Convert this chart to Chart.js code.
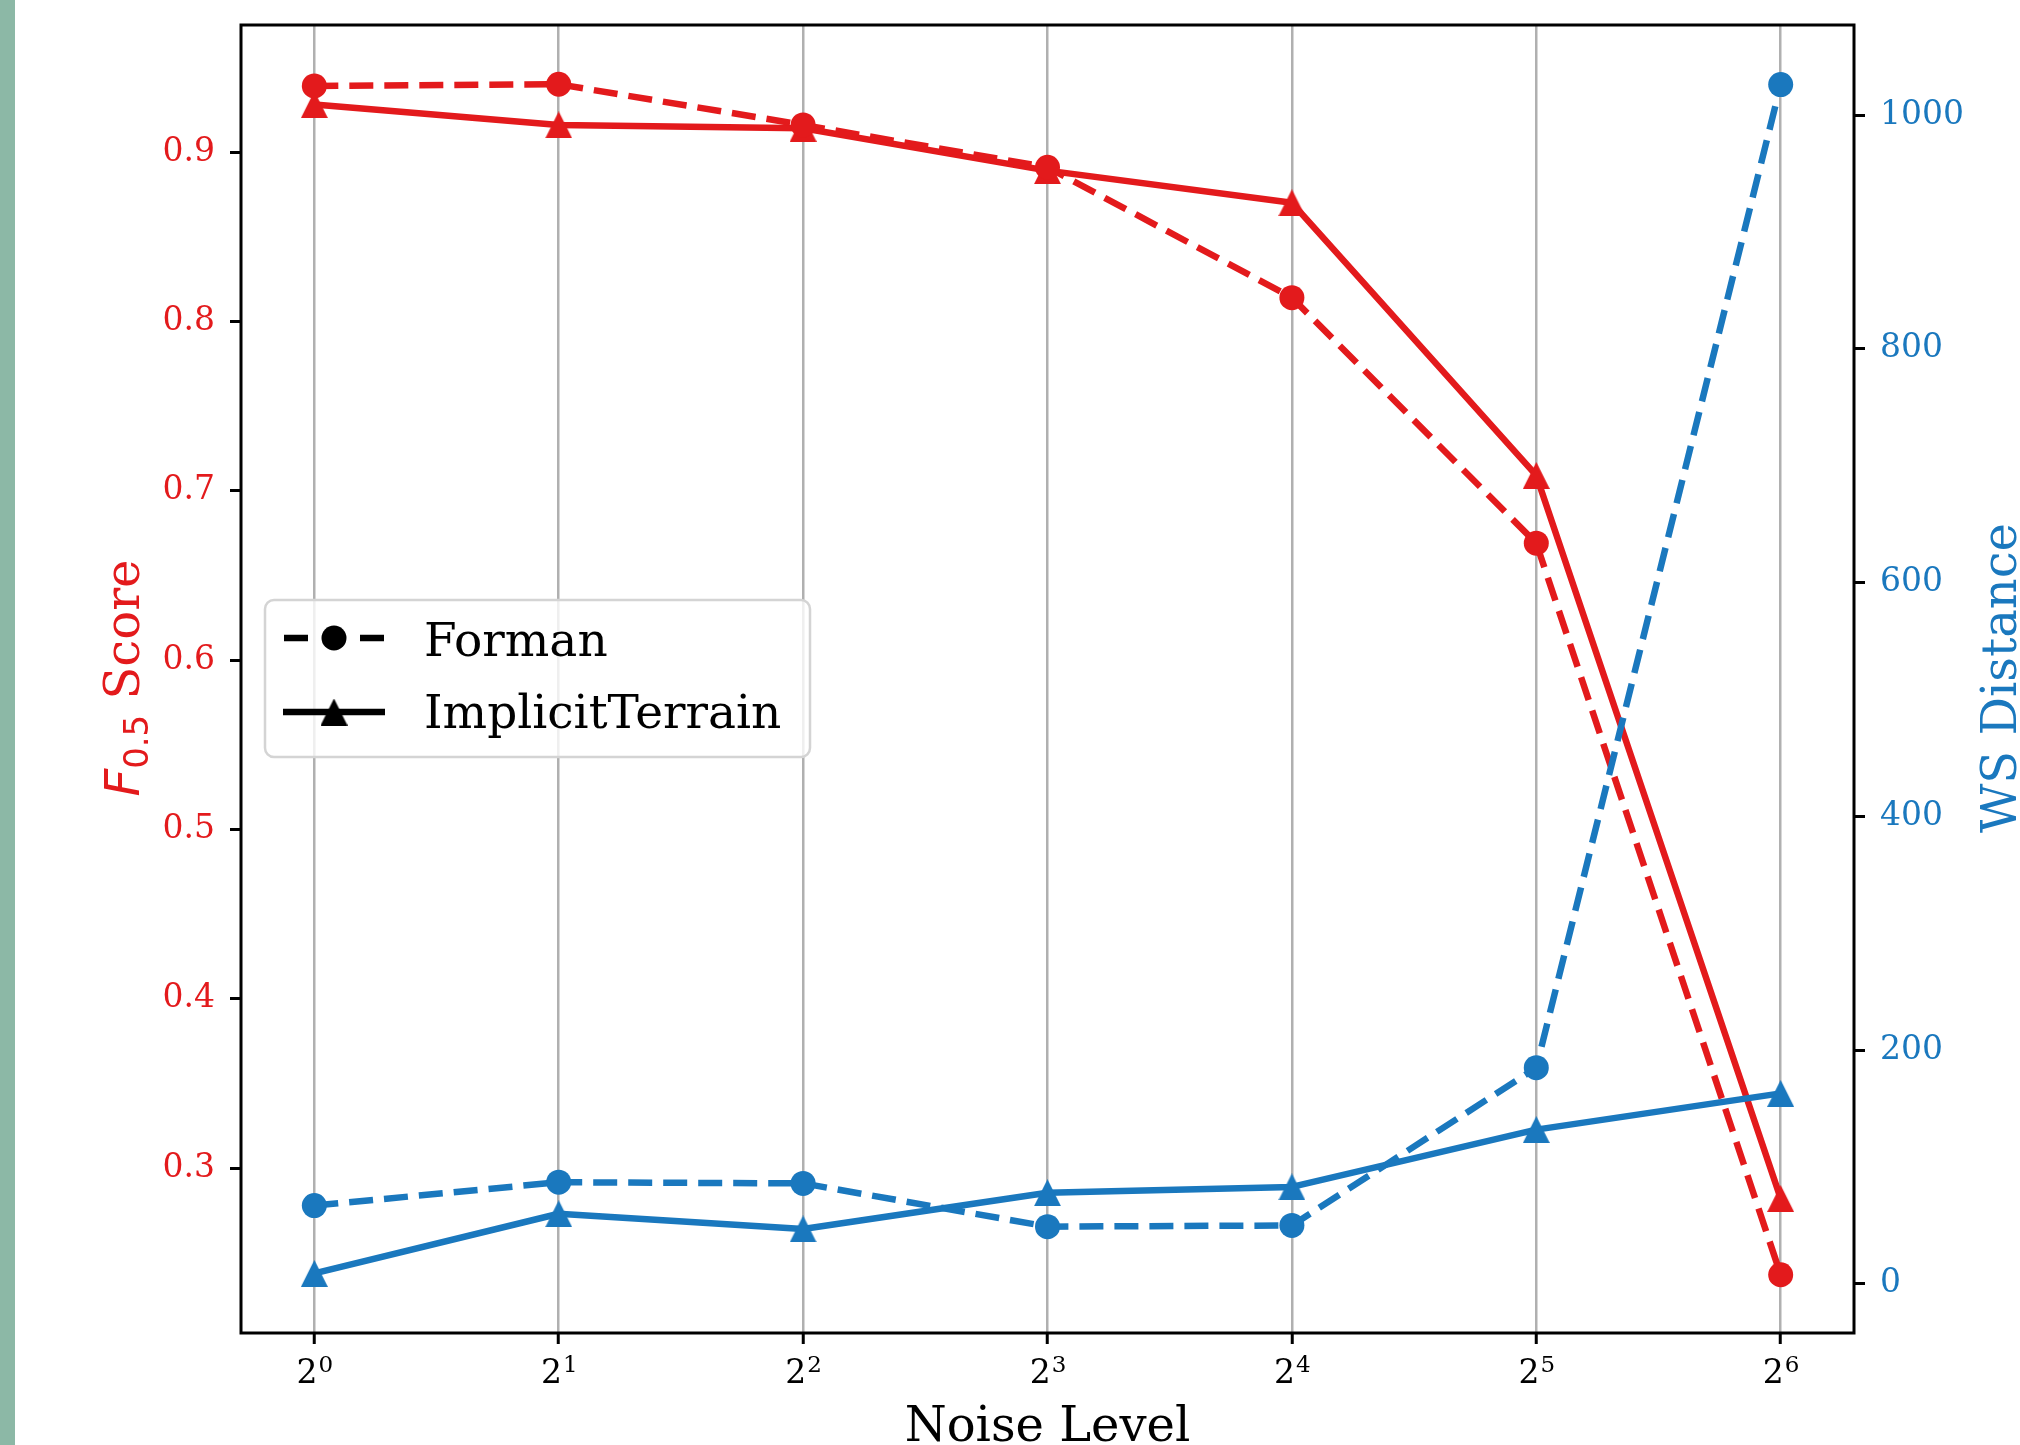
<!DOCTYPE html>
<html>
<head>
<meta charset="utf-8">
<script src="https://cdn.jsdelivr.net/npm/chart.js@4.4.0/dist/chart.umd.min.js"></script>
<style>
    html, body { margin: 0; padding: 0; background: #ffffff; }
    .wrap { position: relative; width: 2020px; height: 1445px; overflow: hidden; }
    .strip { position: absolute; left: 0; top: 0; width: 15px; height: 1445px; background: #8cb8a6; }
    #myChart { position: absolute; left: 0; top: 0; }
</style>
</head>
<body>
<div class="wrap">
    <canvas id="myChart" width="2020" height="1445"></canvas>
    <div class="strip"></div>
</div>
<script>
// data
const noise_exponents = [0, 1, 2, 3, 4, 5, 6];
const x_tick_base = '2';
const x_tick_powers = ['0', '1', '2', '3', '4', '5', '6'];
const method_names = ['Forman', 'ImplicitTerrain'];

const forman_f05 = [0.939, 0.940, 0.916, 0.891, 0.814, 0.669, 0.237];
const implicit_f05 = [0.928, 0.916, 0.914, 0.889, 0.870, 0.709, 0.282];
const forman_ws = [67, 87, 86, 49, 50, 185, 1026];
const implicit_ws = [9, 60, 47, 78, 83, 132, 163];

const x_title = 'Noise Level';
const right_title = 'WS Distance';

const RED = '#e31a1c';
const BLUE = '#1a78be';
const SERIF = '"DejaVu Serif", serif';

// matplotlib-like '^' marker (width == height)
function makeTriangle(color, size) {
    const c = document.createElement('canvas');
    c.width = size;
    c.height = size;
    const g = c.getContext('2d');
    g.fillStyle = color;
    g.beginPath();
    g.moveTo(size / 2, 0);
    g.lineTo(size, size);
    g.lineTo(0, size);
    g.closePath();
    g.fill();
    return c;
}

const red_tri = makeTriangle(RED, 27);
const blue_tri = makeTriangle(BLUE, 27);
const black_tri = makeTriangle('#000000', 27);

function toPoints(values) {
    return noise_exponents.map((e, i) => ({ x: e, y: values[i] }));
}

function lineSet(label, values, color, dashed, marker, axis, order) {
    return {
        label: label,
        data: toPoints(values),
        yAxisID: axis,
        borderColor: color,
        backgroundColor: color,
        borderWidth: 6.5,
        borderDash: dashed ? [24, 11] : [],
        borderCapStyle: 'butt',
        borderJoinStyle: 'round',
        pointStyle: marker,
        pointRadius: 12.5,
        pointBorderWidth: 0,
        pointBackgroundColor: color,
        tension: 0,
        fill: false,
        order: order
    };
}

const framePlugin = {
    id: 'frame',
    afterDatasetsDraw(chart) {
        const a = chart.chartArea;
        const ctx = chart.ctx;
        ctx.save();
        ctx.strokeStyle = '#000000';
        ctx.lineWidth = 3;
        ctx.strokeRect(a.left, a.top, a.right - a.left, a.bottom - a.top);
        ctx.restore();
    },
    afterDraw(chart) {
        const a = chart.chartArea;
        const ctx = chart.ctx;
        const xs = chart.scales.x;
        ctx.save();

        // x tick labels, 2 with a raised power
        ctx.fillStyle = '#000000';
        ctx.textAlign = 'left';
        ctx.textBaseline = 'alphabetic';
        noise_exponents.forEach((e, i) => {
            ctx.font = '33px ' + SERIF;
            const w1 = ctx.measureText(x_tick_base).width;
            ctx.font = '23px ' + SERIF;
            const w2 = ctx.measureText(x_tick_powers[i]).width;
            const left = xs.getPixelForValue(e) - (w1 + w2) / 2;
            ctx.font = '33px ' + SERIF;
            ctx.fillText(x_tick_base, left, 1383);
            ctx.font = '23px ' + SERIF;
            ctx.fillText(x_tick_powers[i], left + w1 + 1, 1372);
        });

        // x title
        ctx.font = '48px ' + SERIF;
        ctx.textAlign = 'center';
        ctx.fillText(x_title, (a.left + a.right) / 2, 1441);

        // left title: F_0.5 Score
        const parts = [
            { text: 'F', font: 'italic 48px "DejaVu Sans"', dy: 0 },
            { text: '0.5', font: '34px "DejaVu Sans"', dy: 9 },
            { text: ' Score', font: '48px ' + SERIF, dy: 0 }
        ];
        let total = 0;
        parts.forEach(p => { ctx.font = p.font; p.w = ctx.measureText(p.text).width; total += p.w; });
        ctx.save();
        ctx.translate(139, 678);
        ctx.rotate(-Math.PI / 2);
        ctx.fillStyle = RED;
        ctx.textAlign = 'left';
        let px = -total / 2;
        parts.forEach(p => { ctx.font = p.font; ctx.fillText(p.text, px, p.dy); px += p.w; });
        ctx.restore();

        // right title
        ctx.save();
        ctx.translate(2016, 678);
        ctx.rotate(-Math.PI / 2);
        ctx.fillStyle = BLUE;
        ctx.font = '48px ' + SERIF;
        ctx.textAlign = 'center';
        ctx.fillText(right_title, 0, 0);
        ctx.restore();

        // legend
        const bx = 265, by = 600, bw = 545, bh = 157;
        ctx.beginPath();
        ctx.roundRect(bx, by, bw, bh, 9);
        ctx.fillStyle = 'rgba(255,255,255,0.8)';
        ctx.fill();
        ctx.strokeStyle = '#d4d4d4';
        ctx.lineWidth = 2.5;
        ctx.stroke();

        ctx.strokeStyle = '#000000';
        ctx.fillStyle = '#000000';
        ctx.lineWidth = 6.5;
        // Forman handle
        ctx.beginPath();
        ctx.moveTo(284, 638); ctx.lineTo(308, 638);
        ctx.moveTo(360, 638); ctx.lineTo(384, 638);
        ctx.stroke();
        ctx.beginPath();
        ctx.arc(334, 638, 12.5, 0, Math.PI * 2);
        ctx.fill();
        // ImplicitTerrain handle
        ctx.beginPath();
        ctx.moveTo(283, 712); ctx.lineTo(385, 712);
        ctx.stroke();
        ctx.drawImage(black_tri, 334 - 13.5, 712 - 13.5);

        ctx.font = '47px ' + SERIF;
        ctx.textAlign = 'left';
        ctx.fillText(method_names[0], 424, 656);
        ctx.fillText(method_names[1], 424, 728);
        ctx.restore();
    }
};

const config = {
    type: 'line',
    data: {
        datasets: [
            lineSet(method_names[0] + ' F0.5', forman_f05, RED, true, 'circle', 'y', 2),
            lineSet(method_names[1] + ' F0.5', implicit_f05, RED, false, red_tri, 'y', 2),
            lineSet(method_names[0] + ' WS', forman_ws, BLUE, true, 'circle', 'y1', 1),
            lineSet(method_names[1] + ' WS', implicit_ws, BLUE, false, blue_tri, 'y1', 1)
        ]
    },
    options: {
        responsive: false,
        animation: false,
        layout: { padding: { top: 25, left: 0, right: 0, bottom: 0 } },
        plugins: {
            legend: { display: false },
            tooltip: { enabled: false }
        },
        scales: {
            x: {
                type: 'linear',
                min: -0.3,
                max: 6.3,
                border: { display: false },
                grid: {
                    color: '#b0b0b0',
                    lineWidth: 2.5,
                    tickColor: '#000000',
                    tickWidth: 3,
                    tickLength: 11
                },
                ticks: {
                    stepSize: 1,
                    includeBounds: false,
                    display: false
                },
                afterFit: (scale) => { scale.height = 112; }
            },
            y: {
                position: 'left',
                min: 0.2026,
                max: 0.975,
                border: { display: false },
                grid: {
                    drawOnChartArea: false,
                    tickColor: '#000000',
                    tickWidth: 3,
                    tickLength: 11
                },
                ticks: {
                    stepSize: 0.1,
                    includeBounds: false,
                    padding: 15,
                    color: RED,
                    font: { family: 'DejaVu Serif', size: 33 },
                    callback: (value) => value.toFixed(1)
                },
                afterFit: (scale) => {
                    scale.width = 241;
                    scale.paddingTop = 0;
                    scale.paddingBottom = 0;
                }
            },
            y1: {
                position: 'right',
                min: -42,
                max: 1077,
                border: { display: false },
                grid: {
                    drawOnChartArea: false,
                    tickColor: '#000000',
                    tickWidth: 3,
                    tickLength: 11
                },
                ticks: {
                    stepSize: 200,
                    includeBounds: false,
                    padding: 15,
                    color: BLUE,
                    font: { family: 'DejaVu Serif', size: 33 },
                    callback: (value) => String(value)
                },
                afterFit: (scale) => {
                    scale.width = 166;
                    scale.paddingTop = 0;
                    scale.paddingBottom = 0;
                }
            }
        }
    },
    plugins: [framePlugin]
};

const ctx = document.getElementById('myChart').getContext('2d');
const myChart = new Chart(ctx, config);
</script>
</body>
</html>
